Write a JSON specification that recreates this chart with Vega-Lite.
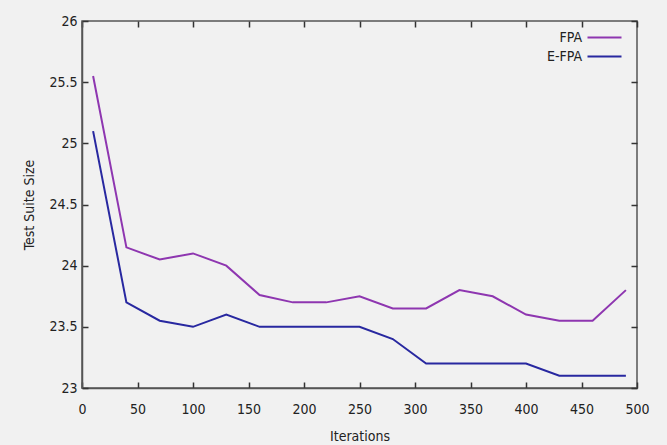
{
  "$schema": "https://vega.github.io/schema/vega-lite/v6.json",
  "width": 555,
  "height": 367,
  "autosize": {"type": "none"},
  "padding": {"left": 82, "top": 21, "right": 30, "bottom": 57},
  "background": "#f1f1f1",
  "config": {
    "font": "DejaVu Sans Condensed",
    "view": {"stroke": "#555555", "strokeWidth": 1.5},
    "axis": {
      "grid": false,
      "ticks": true,
      "domainColor": "#555555",
      "domainWidth": 1.5,
      "tickColor": "#444444",
      "tickWidth": 1.5,
      "labelColor": "#222222",
      "titleColor": "#222222",
      "labelFontSize": 14,
      "titleFontSize": 14,
      "titleFontWeight": "normal"
    }
  },
  "data": {
    "values": [
      {"iter": 10, "series": "FPA", "size": 25.55},
      {"iter": 40, "series": "FPA", "size": 24.15},
      {"iter": 70, "series": "FPA", "size": 24.05},
      {"iter": 100, "series": "FPA", "size": 24.1},
      {"iter": 130, "series": "FPA", "size": 24.0},
      {"iter": 160, "series": "FPA", "size": 23.76},
      {"iter": 190, "series": "FPA", "size": 23.7},
      {"iter": 220, "series": "FPA", "size": 23.7},
      {"iter": 250, "series": "FPA", "size": 23.75},
      {"iter": 280, "series": "FPA", "size": 23.65},
      {"iter": 310, "series": "FPA", "size": 23.65},
      {"iter": 340, "series": "FPA", "size": 23.8},
      {"iter": 370, "series": "FPA", "size": 23.75},
      {"iter": 400, "series": "FPA", "size": 23.6},
      {"iter": 430, "series": "FPA", "size": 23.55},
      {"iter": 460, "series": "FPA", "size": 23.55},
      {"iter": 490, "series": "FPA", "size": 23.8},
      {"iter": 10, "series": "E-FPA", "size": 25.1},
      {"iter": 40, "series": "E-FPA", "size": 23.7},
      {"iter": 70, "series": "E-FPA", "size": 23.55},
      {"iter": 100, "series": "E-FPA", "size": 23.5},
      {"iter": 130, "series": "E-FPA", "size": 23.6},
      {"iter": 160, "series": "E-FPA", "size": 23.5},
      {"iter": 190, "series": "E-FPA", "size": 23.5},
      {"iter": 220, "series": "E-FPA", "size": 23.5},
      {"iter": 250, "series": "E-FPA", "size": 23.5},
      {"iter": 280, "series": "E-FPA", "size": 23.4},
      {"iter": 310, "series": "E-FPA", "size": 23.2},
      {"iter": 340, "series": "E-FPA", "size": 23.2},
      {"iter": 370, "series": "E-FPA", "size": 23.2},
      {"iter": 400, "series": "E-FPA", "size": 23.2},
      {"iter": 430, "series": "E-FPA", "size": 23.1},
      {"iter": 460, "series": "E-FPA", "size": 23.1},
      {"iter": 490, "series": "E-FPA", "size": 23.1}
    ]
  },
  "layer": [
    {
      "mark": {"type": "line", "strokeWidth": 2},
      "encoding": {
        "x": {
          "field": "iter", "type": "quantitative",
          "scale": {"domain": [0, 500], "nice": false, "zero": false},
          "axis": {"orient": "bottom", "title": "Iterations", "values": [0,50,100,150,200,250,300,350,400,450,500], "ticks": true, "tickColor": "#333333", "zindex": 1, "tickSize": -6, "labelPadding": 20, "titlePadding": 13, "labelFlush": false}
        },
        "y": {
          "field": "size", "type": "quantitative",
          "scale": {"domain": [23, 26], "nice": false, "zero": false},
          "axis": {"orient": "left", "title": "Test Suite Size", "values": [23,23.5,24,24.5,25,25.5,26], "format": "~f", "ticks": true, "tickColor": "#333333", "zindex": 1, "tickSize": -6, "labelPadding": 11, "titlePadding": 12, "labelFlush": false}
        },
        "color": {
          "field": "series", "type": "nominal",
          "scale": {"domain": ["FPA", "E-FPA"], "range": ["#8e36b0", "#2828a0"]},
          "legend": {
            "orient": "none", "legendX": 513, "legendY": 7,
            "title": null, "symbolType": "M-2,0H2", "symbolStrokeWidth": 2,
            "symbolSize": 289, "symbolFillColor": "transparent",
            "labelFontSize": 14, "labelColor": "#222222",
            "labelAlign": "right", "labelOffset": -32, "rowPadding": 2
          }
        }
      }
    },
    {
      "mark": {"type": "line", "opacity": 0},
      "encoding": {
        "x": {
          "field": "iter", "type": "quantitative",
          "axis": {"orient": "top", "title": null, "labels": false, "domain": false, "values": [0,50,100,150,200,250,300,350,400,450,500], "ticks": true, "tickColor": "#333333", "zindex": 1, "tickSize": -6}
        },
        "y": {
          "field": "size", "type": "quantitative",
          "axis": {"orient": "right", "title": null, "labels": false, "domain": false, "values": [23,23.5,24,24.5,25,25.5,26], "ticks": true, "tickColor": "#333333", "zindex": 1, "tickSize": -6}
        },
        "detail": {"field": "series"}
      }
    }
  ],
  "resolve": {"axis": {"x": "independent", "y": "independent"}}
}
